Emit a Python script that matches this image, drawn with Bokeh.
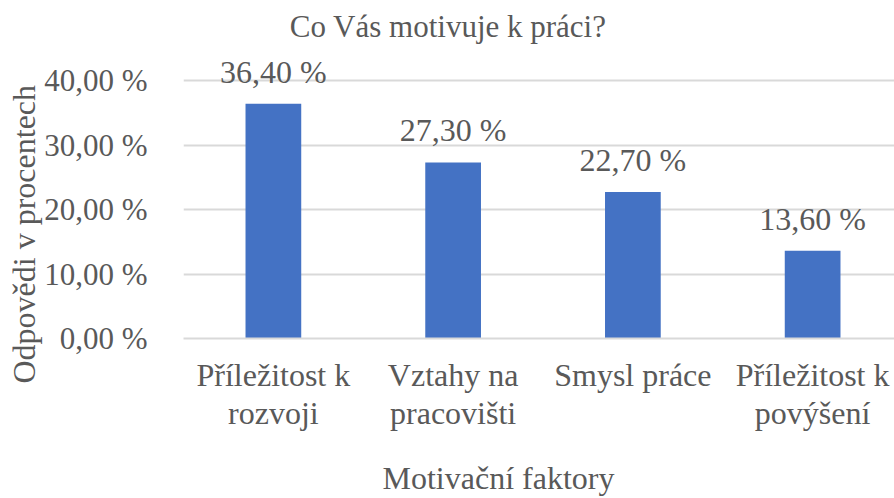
from bokeh.plotting import figure
from bokeh.models import ColumnDataSource, FixedTicker, Title
from bokeh.core.properties import value
from bokeh.embed import file_html
from bokeh.resources import INLINE

categories = ["Příležitost k\nrozvoji", "Vztahy na\npracovišti", "Smysl práce", "Příležitost k\npovýšení"]
values = [36.4, 27.3, 22.7, 13.6]
y_ticks = [0, 10, 20, 30, 40]
y_tick_labels = ["0,00 %", "10,00 %", "20,00 %", "30,00 %", "40,00 %"]
title_text = "Co Vás motivuje k práci?"
x_title = "Motivační faktory"
y_title = "Odpovědi v procentech"

FONT = "Liberation Serif"
TXT = "#595959"
GRID = "#D9D9D9"
BAR = "#4472C4"

labels = [f"{v:.2f}".replace(".", ",") + " %" for v in values]
src = ColumnDataSource(dict(cat=categories, val=values, lab=labels))

# plot area: 40 % gridline 80 px below the top, 0 % at 338 px;
# the frame is extended upward so the chart title and data labels sit inside it
PLOT_H = 258
TOP_PAD = 80
FH = PLOT_H + TOP_PAD
y_max = 40 * FH / PLOT_H

p = figure(x_range=categories, y_range=(0, y_max),
           frame_width=719, frame_height=FH,
           output_backend="svg", toolbar_location=None,
           min_border_left=183, min_border_right=0, min_border_top=0, min_border_bottom=0)
p.outline_line_color = None
p.background_fill_color = "white"
p.border_fill_color = "white"

p.vbar(x="cat", top="val", width=0.31, source=src, color=BAR, line_color=None)
p.text(x="cat", y="val", text="lab", source=src, text_align="center",
       text_baseline="alphabetic", y_offset=-32, text_color=TXT,
       text_font=value(FONT), text_font_size="32px")

# chart title, anchored on the top gridline
p.text(x=[categories[1]], y=[y_ticks[-1]], text=[title_text], text_align="center",
       text_baseline="alphabetic", x_offset=-5, y_offset=-54, text_color=TXT,
       text_font=value(FONT), text_font_size="31px")

# y axis
p.yaxis.ticker = FixedTicker(ticks=y_ticks)
p.yaxis.major_label_overrides = {tk: lb for tk, lb in zip(y_ticks, y_tick_labels)}
p.yaxis.axis_line_color = None
p.yaxis.major_tick_line_color = None
p.yaxis.minor_tick_line_color = None
p.yaxis.major_label_standoff = 30
p.yaxis.major_label_text_font = FONT
p.yaxis.major_label_text_font_size = "31px"
p.yaxis.major_label_text_color = TXT

yt = Title(text=y_title, align="left", offset=-45, text_font=FONT,
           text_font_size="32px", text_font_style="normal", text_color=TXT,
           standoff=0)
p.add_layout(yt, "left")

# x axis
p.xaxis.axis_line_color = GRID
p.xaxis.axis_line_width = 2
p.xaxis.major_tick_line_color = None
p.xaxis.minor_tick_line_color = None
p.xaxis.major_label_standoff = 12
p.xaxis.major_label_text_font = FONT
p.xaxis.major_label_text_font_size = "32px"
p.xaxis.major_label_text_color = TXT
p.xaxis.major_label_text_line_height = 1.08

xt = Title(text=x_title, align="left", offset=199, text_font=FONT,
           text_font_size="32px", text_font_style="normal", text_color=TXT,
           standoff=46)
p.add_layout(xt, "below")

p.xgrid.grid_line_color = None
p.ygrid.grid_line_color = GRID
p.ygrid.grid_line_width = 2

open("out.html", "w").write(file_html(p, INLINE))
